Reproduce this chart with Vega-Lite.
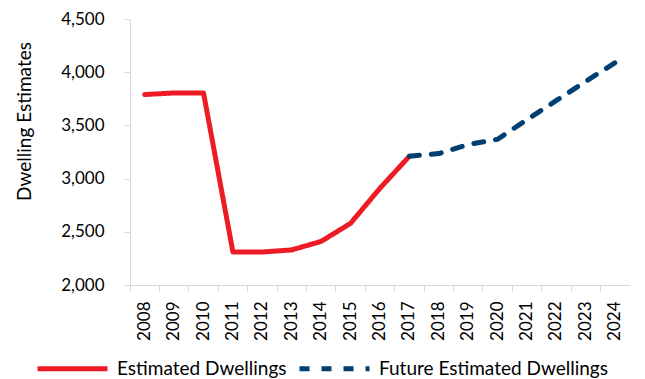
{
  "$schema": "https://vega.github.io/schema/vega-lite/v6.json",
  "width": 500,
  "height": 266,
  "autosize": {"type": "none"},
  "padding": {"left": 130, "top": 19, "right": 15, "bottom": 94},
  "background": "white",
  "config": {"font": "Lato", "view": {"stroke": null}},
  "data": {
    "values": [
      {"year": "2008", "value": 3790, "series": "Estimated Dwellings"},
      {"year": "2009", "value": 3805, "series": "Estimated Dwellings"},
      {"year": "2010", "value": 3805, "series": "Estimated Dwellings"},
      {"year": "2011", "value": 2310, "series": "Estimated Dwellings"},
      {"year": "2012", "value": 2310, "series": "Estimated Dwellings"},
      {"year": "2013", "value": 2330, "series": "Estimated Dwellings"},
      {"year": "2014", "value": 2410, "series": "Estimated Dwellings"},
      {"year": "2015", "value": 2580, "series": "Estimated Dwellings"},
      {"year": "2016", "value": 2910, "series": "Estimated Dwellings"},
      {"year": "2017", "value": 3210, "series": "Estimated Dwellings"},
      {"year": "2017", "value": 3210, "series": "Future Estimated Dwellings"},
      {"year": "2018", "value": 3235, "series": "Future Estimated Dwellings"},
      {"year": "2019", "value": 3320, "series": "Future Estimated Dwellings"},
      {"year": "2020", "value": 3370, "series": "Future Estimated Dwellings"},
      {"year": "2021", "value": 3555, "series": "Future Estimated Dwellings"},
      {"year": "2022", "value": 3735, "series": "Future Estimated Dwellings"},
      {"year": "2023", "value": 3915, "series": "Future Estimated Dwellings"},
      {"year": "2024", "value": 4090, "series": "Future Estimated Dwellings"}
    ]
  },
  "mark": {"type": "line", "strokeWidth": 5, "strokeCap": "round", "strokeJoin": "round"},
  "encoding": {
    "x": {
      "field": "year",
      "type": "ordinal",
      "scale": {"type": "band", "paddingInner": 0, "paddingOuter": 0},
      "bandPosition": 0.5,
      "axis": {
        "title": null,
        "labelAngle": -90,
        "labelFontSize": 17,
        "labelColor": "#000000",
        "domainColor": "#D9D9D9",
        "tickColor": "#D9D9D9",
        "tickSize": 6,
        "bandPosition": 0,
        "labelPadding": 10,
        "grid": false
      }
    },
    "y": {
      "field": "value",
      "type": "quantitative",
      "scale": {"domain": [2000, 4500], "nice": false, "zero": false},
      "axis": {
        "title": "Dwelling Estimates",
        "values": [2000, 2500, 3000, 3500, 4000, 4500],
        "format": ",.0f",
        "labelFontSize": 17,
        "labelColor": "#000000",
        "titleFontSize": 19,
        "titleFontWeight": "normal",
        "titleColor": "#000000",
        "titleX": -106,
        "titleY": 102,
        "titleAlign": "center",
        "titleBaseline": "middle",
        "grid": false,
        "domainColor": "#D9D9D9",
        "tickColor": "#D9D9D9",
        "tickSize": 6,
        "labelPadding": 20
      }
    },
    "color": {
      "field": "series",
      "type": "nominal",
      "scale": {"domain": ["Estimated Dwellings", "Future Estimated Dwellings"], "range": ["#ED1C24", "#003F72"]},
      "legend": {
        "title": null,
        "orient": "none",
        "direction": "horizontal",
        "legendX": -95,
        "legendY": 312,
        "symbolType": "stroke",
        "symbolSize": 4900,
        "symbolStrokeWidth": 5,
        "labelFontSize": 19,
        "labelColor": "#000000",
        "labelLimit": 400,
        "labelOffset": 7,
        "columnPadding": 2
      }
    },
    "strokeDash": {
      "field": "series",
      "type": "nominal",
      "scale": {"domain": ["Estimated Dwellings", "Future Estimated Dwellings"], "range": [[1, 0], [10, 12]]},
      "legend": {
        "title": null,
        "orient": "none",
        "direction": "horizontal",
        "legendX": -95,
        "legendY": 312,
        "symbolType": "stroke",
        "symbolSize": 4900,
        "symbolStrokeWidth": 5,
        "labelFontSize": 19,
        "labelColor": "#000000",
        "labelLimit": 400,
        "labelOffset": 7,
        "columnPadding": 2
      }
    }
  }
}
